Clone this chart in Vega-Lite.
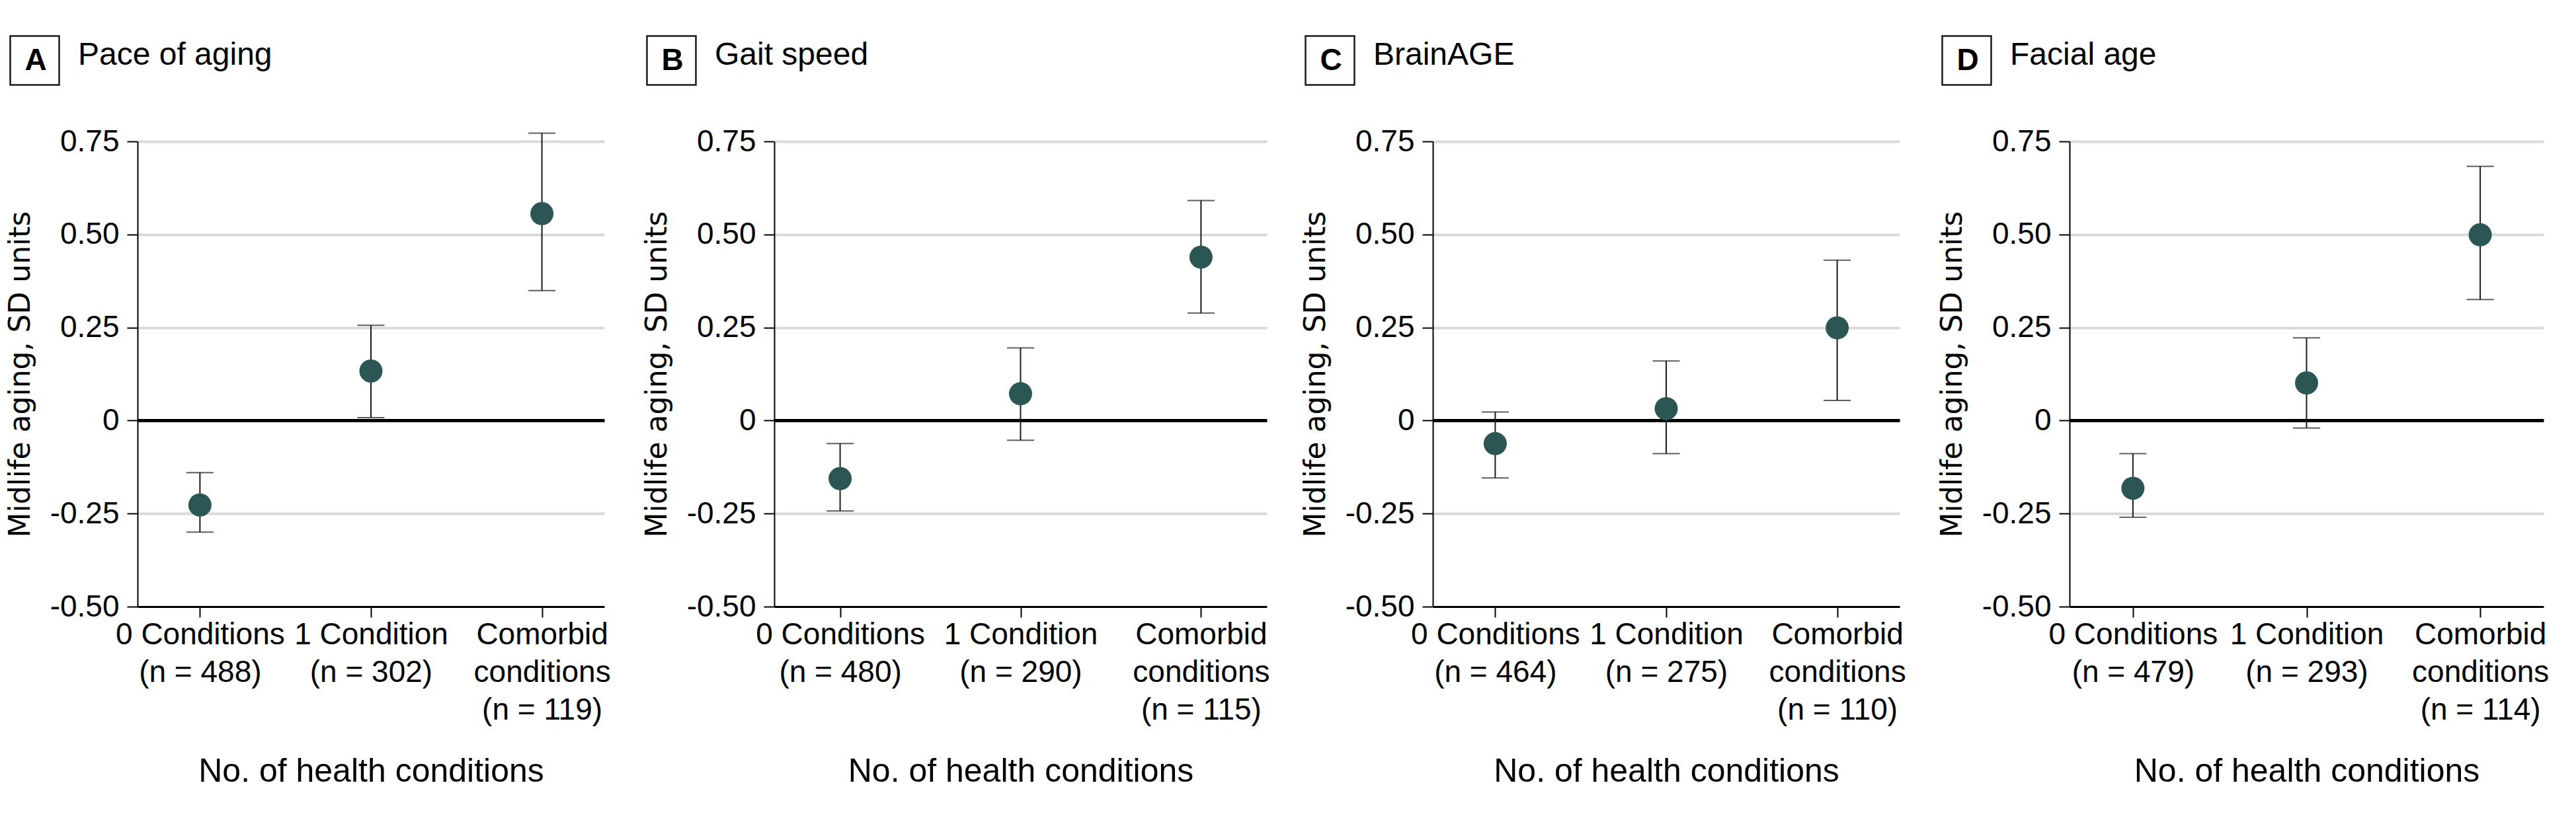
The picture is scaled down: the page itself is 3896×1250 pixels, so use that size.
{
  "$schema": "https://vega.github.io/schema/vega-lite/v6.json",
  "background": "white",
  "padding": {"left": 9, "top": 53, "right": 10, "bottom": 10},
  "spacing": 48,
  "datasets": {
    "est": [
      {"panel": "A", "label": "0 Conditions|(n = 488)", "est": -0.227, "lo": -0.300, "hi": -0.140},
      {"panel": "A", "label": "1 Condition|(n = 302)", "est": 0.133, "lo": 0.008, "hi": 0.256},
      {"panel": "A", "label": "Comorbid|conditions|(n = 119)", "est": 0.556, "lo": 0.349, "hi": 0.772},
      {"panel": "B", "label": "0 Conditions|(n = 480)", "est": -0.156, "lo": -0.243, "hi": -0.062},
      {"panel": "B", "label": "1 Condition|(n = 290)", "est": 0.072, "lo": -0.053, "hi": 0.195},
      {"panel": "B", "label": "Comorbid|conditions|(n = 115)", "est": 0.439, "lo": 0.289, "hi": 0.591},
      {"panel": "C", "label": "0 Conditions|(n = 464)", "est": -0.062, "lo": -0.154, "hi": 0.023},
      {"panel": "C", "label": "1 Condition|(n = 275)", "est": 0.032, "lo": -0.089, "hi": 0.160},
      {"panel": "C", "label": "Comorbid|conditions|(n = 110)", "est": 0.249, "lo": 0.054, "hi": 0.431},
      {"panel": "D", "label": "0 Conditions|(n = 479)", "est": -0.182, "lo": -0.260, "hi": -0.089},
      {"panel": "D", "label": "1 Condition|(n = 293)", "est": 0.101, "lo": -0.020, "hi": 0.222},
      {"panel": "D", "label": "Comorbid|conditions|(n = 114)", "est": 0.499, "lo": 0.325, "hi": 0.683}
    ]
  },
  "hconcat": [
    {
      "width": 706, "height": 704,
      "title": {"text": "Pace of aging"},
      "data": {"name": "est"},
      "transform": [{"filter": "datum.panel == 'A'"}],
      "encoding": {"x": {"field": "label", "type": "nominal", "sort": null, "title": "No. of health conditions", "scale": {"type": "point", "padding": 0.365}, "axis": {"labelExpr": "split(datum.label, '|')"}}},
      "layer": [
        {"mark": {"type": "rule", "strokeWidth": 2}, "encoding": {
          "y": {"field": "lo", "type": "quantitative", "title": "Midlife aging, SD units", "scale": {"domain": [-0.5, 0.75], "nice": false, "zero": false}, "axis": {"values": [-0.5, -0.25, 0, 0.25, 0.5, 0.75], "labelExpr": "datum.value == 0 ? '0' : (datum.value < 0 ? '-' : '') + format(abs(datum.value), '.2f')", "gridColor": {"condition": [{"test": "datum.value == 0", "value": "black"}, {"test": "datum.value == -0.5", "value": "transparent"}], "value": "#d9d9d9"}, "gridWidth": {"condition": {"test": "datum.value == 0", "value": 5}, "value": 4}}},
          "y2": {"field": "hi"},
          "color": {"datum": "A", "type": "nominal", "scale": {"domain": ["A"], "range": ["#1a1a1a"]}, "legend": {"orient": "none", "legendX": -194, "legendY": -161, "title": null, "padding": 0, "symbolType": "square", "symbolSize": 5476, "symbolFillColor": "white", "symbolStrokeColor": "black", "symbolStrokeWidth": 2.5, "symbolOpacity": 1, "labelAlign": "center", "labelOffset": -37, "labelFontSize": 46, "labelFontWeight": "bold", "labelFont": "Liberation Sans", "labelColor": "black", "labelLimit": 0}}
        }},
        {"mark": {"type": "tick", "color": "#1a1a1a", "size": 41, "thickness": 2}, "encoding": {"y": {"field": "lo", "type": "quantitative", "title": "Midlife aging, SD units", "scale": {"domain": [-0.5, 0.75], "nice": false, "zero": false}}}},
        {"mark": {"type": "tick", "color": "#1a1a1a", "size": 41, "thickness": 2}, "encoding": {"y": {"field": "hi", "type": "quantitative", "title": "Midlife aging, SD units", "scale": {"domain": [-0.5, 0.75], "nice": false, "zero": false}}}},
        {"mark": {"type": "circle", "size": 1225, "opacity": 1, "color": "#2b5654"}, "encoding": {"y": {"field": "est", "type": "quantitative", "title": "Midlife aging, SD units", "scale": {"domain": [-0.5, 0.75], "nice": false, "zero": false}}}}
      ]
    },
    {
      "width": 745, "height": 704,
      "title": {"text": "Gait speed"},
      "data": {"name": "est"},
      "transform": [{"filter": "datum.panel == 'B'"}],
      "encoding": {"x": {"field": "label", "type": "nominal", "sort": null, "title": "No. of health conditions", "scale": {"type": "point", "padding": 0.365}, "axis": {"labelExpr": "split(datum.label, '|')"}}},
      "layer": [
        {"mark": {"type": "rule", "strokeWidth": 2}, "encoding": {
          "y": {"field": "lo", "type": "quantitative", "title": "Midlife aging, SD units", "scale": {"domain": [-0.5, 0.75], "nice": false, "zero": false}, "axis": {"values": [-0.5, -0.25, 0, 0.25, 0.5, 0.75], "labelExpr": "datum.value == 0 ? '0' : (datum.value < 0 ? '-' : '') + format(abs(datum.value), '.2f')", "gridColor": {"condition": [{"test": "datum.value == 0", "value": "black"}, {"test": "datum.value == -0.5", "value": "transparent"}], "value": "#d9d9d9"}, "gridWidth": {"condition": {"test": "datum.value == 0", "value": 5}, "value": 4}}},
          "y2": {"field": "hi"},
          "color": {"datum": "B", "type": "nominal", "scale": {"domain": ["B"], "range": ["#1a1a1a"]}, "legend": {"orient": "none", "legendX": -194, "legendY": -161, "title": null, "padding": 0, "symbolType": "square", "symbolSize": 5476, "symbolFillColor": "white", "symbolStrokeColor": "black", "symbolStrokeWidth": 2.5, "symbolOpacity": 1, "labelAlign": "center", "labelOffset": -37, "labelFontSize": 46, "labelFontWeight": "bold", "labelFont": "Liberation Sans", "labelColor": "black", "labelLimit": 0}}
        }},
        {"mark": {"type": "tick", "color": "#1a1a1a", "size": 41, "thickness": 2}, "encoding": {"y": {"field": "lo", "type": "quantitative", "title": "Midlife aging, SD units", "scale": {"domain": [-0.5, 0.75], "nice": false, "zero": false}}}},
        {"mark": {"type": "tick", "color": "#1a1a1a", "size": 41, "thickness": 2}, "encoding": {"y": {"field": "hi", "type": "quantitative", "title": "Midlife aging, SD units", "scale": {"domain": [-0.5, 0.75], "nice": false, "zero": false}}}},
        {"mark": {"type": "circle", "size": 1225, "opacity": 1, "color": "#2b5654"}, "encoding": {"y": {"field": "est", "type": "quantitative", "title": "Midlife aging, SD units", "scale": {"domain": [-0.5, 0.75], "nice": false, "zero": false}}}}
      ]
    },
    {
      "width": 706, "height": 704,
      "title": {"text": "BrainAGE"},
      "data": {"name": "est"},
      "transform": [{"filter": "datum.panel == 'C'"}],
      "encoding": {"x": {"field": "label", "type": "nominal", "sort": null, "title": "No. of health conditions", "scale": {"type": "point", "padding": 0.365}, "axis": {"labelExpr": "split(datum.label, '|')"}}},
      "layer": [
        {"mark": {"type": "rule", "strokeWidth": 2}, "encoding": {
          "y": {"field": "lo", "type": "quantitative", "title": "Midlife aging, SD units", "scale": {"domain": [-0.5, 0.75], "nice": false, "zero": false}, "axis": {"values": [-0.5, -0.25, 0, 0.25, 0.5, 0.75], "labelExpr": "datum.value == 0 ? '0' : (datum.value < 0 ? '-' : '') + format(abs(datum.value), '.2f')", "gridColor": {"condition": [{"test": "datum.value == 0", "value": "black"}, {"test": "datum.value == -0.5", "value": "transparent"}], "value": "#d9d9d9"}, "gridWidth": {"condition": {"test": "datum.value == 0", "value": 5}, "value": 4}}},
          "y2": {"field": "hi"},
          "color": {"datum": "C", "type": "nominal", "scale": {"domain": ["C"], "range": ["#1a1a1a"]}, "legend": {"orient": "none", "legendX": -194, "legendY": -161, "title": null, "padding": 0, "symbolType": "square", "symbolSize": 5476, "symbolFillColor": "white", "symbolStrokeColor": "black", "symbolStrokeWidth": 2.5, "symbolOpacity": 1, "labelAlign": "center", "labelOffset": -37, "labelFontSize": 46, "labelFontWeight": "bold", "labelFont": "Liberation Sans", "labelColor": "black", "labelLimit": 0}}
        }},
        {"mark": {"type": "tick", "color": "#1a1a1a", "size": 41, "thickness": 2}, "encoding": {"y": {"field": "lo", "type": "quantitative", "title": "Midlife aging, SD units", "scale": {"domain": [-0.5, 0.75], "nice": false, "zero": false}}}},
        {"mark": {"type": "tick", "color": "#1a1a1a", "size": 41, "thickness": 2}, "encoding": {"y": {"field": "hi", "type": "quantitative", "title": "Midlife aging, SD units", "scale": {"domain": [-0.5, 0.75], "nice": false, "zero": false}}}},
        {"mark": {"type": "circle", "size": 1225, "opacity": 1, "color": "#2b5654"}, "encoding": {"y": {"field": "est", "type": "quantitative", "title": "Midlife aging, SD units", "scale": {"domain": [-0.5, 0.75], "nice": false, "zero": false}}}}
      ]
    },
    {
      "width": 717, "height": 704,
      "title": {"text": "Facial age"},
      "data": {"name": "est"},
      "transform": [{"filter": "datum.panel == 'D'"}],
      "encoding": {"x": {"field": "label", "type": "nominal", "sort": null, "title": "No. of health conditions", "scale": {"type": "point", "padding": 0.365}, "axis": {"labelExpr": "split(datum.label, '|')"}}},
      "layer": [
        {"mark": {"type": "rule", "strokeWidth": 2}, "encoding": {
          "y": {"field": "lo", "type": "quantitative", "title": "Midlife aging, SD units", "scale": {"domain": [-0.5, 0.75], "nice": false, "zero": false}, "axis": {"values": [-0.5, -0.25, 0, 0.25, 0.5, 0.75], "labelExpr": "datum.value == 0 ? '0' : (datum.value < 0 ? '-' : '') + format(abs(datum.value), '.2f')", "gridColor": {"condition": [{"test": "datum.value == 0", "value": "black"}, {"test": "datum.value == -0.5", "value": "transparent"}], "value": "#d9d9d9"}, "gridWidth": {"condition": {"test": "datum.value == 0", "value": 5}, "value": 4}}},
          "y2": {"field": "hi"},
          "color": {"datum": "D", "type": "nominal", "scale": {"domain": ["D"], "range": ["#1a1a1a"]}, "legend": {"orient": "none", "legendX": -194, "legendY": -161, "title": null, "padding": 0, "symbolType": "square", "symbolSize": 5476, "symbolFillColor": "white", "symbolStrokeColor": "black", "symbolStrokeWidth": 2.5, "symbolOpacity": 1, "labelAlign": "center", "labelOffset": -37, "labelFontSize": 46, "labelFontWeight": "bold", "labelFont": "Liberation Sans", "labelColor": "black", "labelLimit": 0}}
        }},
        {"mark": {"type": "tick", "color": "#1a1a1a", "size": 41, "thickness": 2}, "encoding": {"y": {"field": "lo", "type": "quantitative", "title": "Midlife aging, SD units", "scale": {"domain": [-0.5, 0.75], "nice": false, "zero": false}}}},
        {"mark": {"type": "tick", "color": "#1a1a1a", "size": 41, "thickness": 2}, "encoding": {"y": {"field": "hi", "type": "quantitative", "title": "Midlife aging, SD units", "scale": {"domain": [-0.5, 0.75], "nice": false, "zero": false}}}},
        {"mark": {"type": "circle", "size": 1225, "opacity": 1, "color": "#2b5654"}, "encoding": {"y": {"field": "est", "type": "quantitative", "title": "Midlife aging, SD units", "scale": {"domain": [-0.5, 0.75], "nice": false, "zero": false}}}}
      ]
    }
  ],
  "resolve": {"scale": {"color": "independent"}, "legend": {"color": "independent"}},
  "config": {
    "view": {"stroke": null},
    "font": "Liberation Sans",
    "title": {"font": "Liberation Sans", "fontSize": 48, "fontWeight": "normal", "color": "black", "orient": "top", "anchor": "start", "frame": "group", "dx": -90, "offset": -55, "baseline": "alphabetic"},
    "axisY": {"tickSize": 16, "tickWidth": 2, "tickColor": "black", "domainColor": "black", "domainWidth": 2, "labelFont": "Liberation Sans", "labelFontSize": 46, "labelColor": "black", "labelPadding": 12, "titleFont": "DejaVu Sans", "titleFontSize": 44, "titleFontWeight": "normal", "titleColor": "black", "titlePadding": 22, "grid": true},
    "axisX": {"tickSize": 16, "tickWidth": 2, "tickColor": "black", "domainColor": "black", "domainWidth": 3, "labelFont": "Liberation Sans", "labelFontSize": 46, "labelColor": "black", "labelPadding": 4, "labelLineHeight": 57, "labelAngle": 0, "labelOverlap": false, "labelLimit": 0, "titleFont": "Liberation Sans", "titleFontSize": 50, "titleFontWeight": "normal", "titleColor": "black", "titlePadding": 45, "grid": false}
  }
}
